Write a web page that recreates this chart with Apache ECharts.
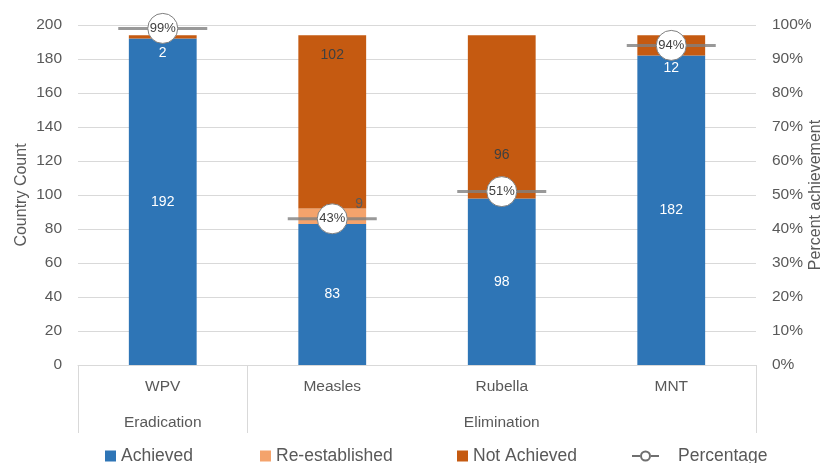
<!DOCTYPE html>
<html>
<head>
<meta charset="utf-8">
<script src="https://cdn.jsdelivr.net/npm/echarts@6/dist/echarts.min.js"></script>
<style>html,body{margin:0;padding:0;background:#fff;}#c{width:837px;height:463px;}</style>
</head>
<body>
<div id="c"></div>
<script>
// ---- data ----
var categories = ['WPV', 'Measles', 'Rubella', 'MNT'];
var groups = ['Eradication', 'Elimination'];
var groupSpans = [1, 3];
var achieved = [192, 83, 98, 182];
var reestablished = [0, 9, 0, 0];
var notAchieved = [2, 102, 96, 12];
var percentage = [0.99, 0.43, 0.51, 0.94];
var leftTicks = { min: 0, max: 200, interval: 20 };
var rightTicks = { min: 0, max: 1, interval: 0.1 };

// ---- styling ----
var C_ACH = '#2E75B6', C_RE = '#F4A36C', C_NA = '#C55A11';
var GRAY_TXT = '#595959', GRID = '#D9D9D9';
var FONT = 'Liberation Sans';

// group boundaries / centers derived from spans
var bounds = [0], centers = [], acc = 0;
groupSpans.forEach(function (s) { centers.push(acc + s / 2); acc += s; bounds.push(acc); });

// per-item label placement for "Not Achieved"
var naLabelStyle = [
  { position: 'bottom', distance: 8, color: '#fff' },
  { position: 'insideTop', distance: 13, color: '#404040' },
  { position: 'inside', offset: [0, 38], color: '#404040' },
  { position: 'bottom', distance: 6, color: '#fff' }
];

var legendText = { fontSize: 17.5, color: GRAY_TXT, fontFamily: FONT };
var chart = echarts.init(document.getElementById('c'), null, { renderer: 'canvas' });
var option = {
  animation: false,
  textStyle: { fontFamily: FONT },
  grid: { left: 78, right: 81, top: 25, bottom: 98, containLabel: false, outerBoundsMode: 'none' },
  legend: [
    { data: ['Achieved'], icon: 'rect', left: 100, top: 442, itemWidth: 11, itemHeight: 11, textStyle: legendText },
    { data: ['Re-established'], icon: 'rect', left: 255, top: 442, itemWidth: 11, itemHeight: 11, textStyle: legendText },
    { data: ['Not Achieved'], icon: 'rect', left: 452, top: 442, itemWidth: 11, itemHeight: 11, textStyle: legendText },
    { data: [{ name: 'Percentage', icon: 'path://M0,10 L8,10 M19,10 L27,10 M18,10 A4.5,4.5 0 1,1 9,10 A4.5,4.5 0 1,1 18,10 Z' }],
      left: 626, top: 442, itemWidth: 27, itemHeight: 10,
      itemStyle: { color: '#fff', borderColor: '#6F6F6F', borderWidth: 2 },
      textStyle: Object.assign({ padding: [0, 0, 0, 14] }, legendText) }
  ],
  xAxis: [
    {
      type: 'category', data: categories, position: 'bottom',
      axisLine: { lineStyle: { color: GRID } },
      axisTick: { show: false },
      axisLabel: { color: GRAY_TXT, fontSize: 15.5, margin: 14 }
    },
    {
      type: 'value', min: 0, max: acc, position: 'bottom', offset: 0,
      axisLine: { show: false },
      splitLine: { show: false },
      axisTick: { show: true, customValues: bounds, length: 68, lineStyle: { color: GRID } },
      axisLabel: {
        customValues: centers, color: GRAY_TXT, fontSize: 15.5, margin: 50,
        formatter: function (v) { var i = centers.indexOf(v); return i >= 0 ? groups[i] : ''; }
      }
    }
  ],
  yAxis: [
    {
      type: 'value', min: leftTicks.min, max: leftTicks.max, interval: leftTicks.interval,
      name: 'Country Count', nameLocation: 'middle', nameGap: 48, nameMoveOverlap: false,
      nameTextStyle: { color: GRAY_TXT, fontSize: 16 },
      axisLine: { show: false }, axisTick: { show: false },
      axisLabel: { color: GRAY_TXT, fontSize: 15.5, margin: 16 },
      splitLine: { lineStyle: { color: GRID } }
    },
    {
      type: 'value', min: rightTicks.min, max: rightTicks.max, interval: rightTicks.interval,
      position: 'right',
      name: 'Percent achievement', nameLocation: 'middle', nameGap: 52, nameMoveOverlap: false,
      nameTextStyle: { color: GRAY_TXT, fontSize: 16 },
      axisLine: { show: false }, axisTick: { show: false },
      axisLabel: { color: GRAY_TXT, fontSize: 15.5, margin: 16, formatter: function (v) { return Math.round(v * 100) + '%'; } },
      splitLine: { show: false }
    }
  ],
  series: [
    {
      name: 'Achieved', type: 'bar', stack: 'c', barWidth: '40%', xAxisIndex: 0, yAxisIndex: 0,
      itemStyle: { color: C_ACH },
      label: { show: true, position: 'inside', color: '#fff', fontSize: 14 },
      data: achieved
    },
    {
      name: 'Re-established', type: 'bar', stack: 'c', xAxisIndex: 0, yAxisIndex: 0,
      itemStyle: { color: C_RE },
      label: { show: true, position: 'top', offset: [27, 8], color: GRAY_TXT, fontSize: 14,
        formatter: function (p) { return p.value ? p.value : ''; } },
      data: reestablished
    },
    {
      name: 'Not Achieved', type: 'bar', stack: 'c', xAxisIndex: 0, yAxisIndex: 0,
      itemStyle: { color: C_NA },
      data: notAchieved.map(function (v, i) {
        var l = Object.assign({ show: true, fontSize: 14 }, naLabelStyle[i]);
        return { value: v, label: l };
      })
    },
    {
      name: 'pctLine', type: 'scatter', xAxisIndex: 0, yAxisIndex: 1, z: 5,
      symbol: 'rect', symbolSize: [89, 3],
      itemStyle: { color: '#808080' },
      data: percentage
    },
    {
      name: 'Percentage', type: 'scatter', xAxisIndex: 0, yAxisIndex: 1, z: 6,
      symbol: 'circle', symbolSize: 30,
      itemStyle: { color: '#fff', borderColor: '#7F7F7F', borderWidth: 1, opacity: 1 },
      label: { show: true, position: 'inside', color: '#404040', fontSize: 13,
        formatter: function (p) { return Math.round(p.value * 100) + '%'; } },
      data: percentage
    }
  ]
};
chart.setOption(option);
</script>
</body>
</html>
